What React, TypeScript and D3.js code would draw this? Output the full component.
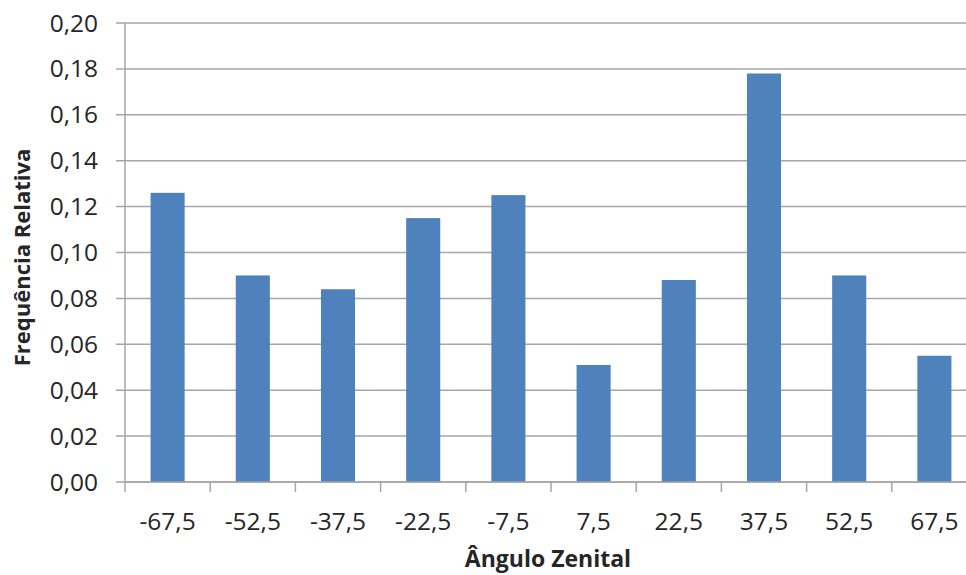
import React from "react";
import * as d3 from "d3";

const categories = ["-67,5", "-52,5", "-37,5", "-22,5", "-7,5", "7,5", "22,5", "37,5", "52,5", "67,5"];
const values = [0.126, 0.090, 0.084, 0.115, 0.125, 0.051, 0.088, 0.178, 0.090, 0.055];
const yTicks = [0, 0.02, 0.04, 0.06, 0.08, 0.1, 0.12, 0.14, 0.16, 0.18, 0.2];

const W = 966;
const H = 575;
const left = 125;
const right = 977;
const top = 23;
const bottom = 482;
const font = "'Open Sans', 'Liberation Sans', sans-serif";

export default function App() {
  const x = d3.scaleBand<string>().domain(categories).range([left, right]).paddingInner(0.6).paddingOuter(0.3);
  const y = d3.scaleLinear().domain([0, 0.2]).range([bottom, top]);
  const step = x.step();
  const fmt = (v: number) => v.toFixed(2).replace(".", ",");
  return (
    <svg width={W} height={H} style={{ position: "absolute", left: 0, top: 0, background: "#fff" }}>
      {yTicks.map((t) => (
        <g key={t}>
          <line x1={116} x2={right} y1={y(t)} y2={y(t)} stroke="#A6A6A6" strokeWidth={1.5} />
          <text x={98} y={y(t)} dy="0.35em" textAnchor="end" fontFamily={font} fontSize={24.5} fill="#262626">
            {fmt(t)}
          </text>
        </g>
      ))}
      {values.map((v, i) => (
        <rect key={i} x={x(categories[i])!} y={y(v)} width={x.bandwidth()} height={y(0) - y(v)} fill="#4F81BD" />
      ))}
      <line x1={left} x2={left} y1={top} y2={bottom + 10} stroke="#A6A6A6" strokeWidth={1.5} />
      {categories.map((c, i) => (
        <line key={c} x1={left + (i + 1) * step} x2={left + (i + 1) * step} y1={bottom} y2={bottom + 10} stroke="#A6A6A6" strokeWidth={1.5} />
      ))}
      <line x1={left} x2={right} y1={bottom} y2={bottom} stroke="#A6A6A6" strokeWidth={1.5} />
      {categories.map((c) => (
        <text key={c} x={x(c)! + x.bandwidth() / 2} y={521} dy="0.35em" textAnchor="middle" fontFamily={font} fontSize={24.5} fill="#262626">
          {c}
        </text>
      ))}
      <text x={548} y={559} dy="0.35em" textAnchor="middle" fontFamily={font} fontSize={23} fontWeight="bold" fill="#262626">
        Ângulo Zenital
      </text>
      <text transform={`translate(22,${(top + bottom) / 2 + 5}) rotate(-90)`} dy="0.35em" textAnchor="middle" fontFamily={font} fontSize={22} fontWeight="bold" fill="#262626">
        Frequência Relativa
      </text>
    </svg>
  );
}
